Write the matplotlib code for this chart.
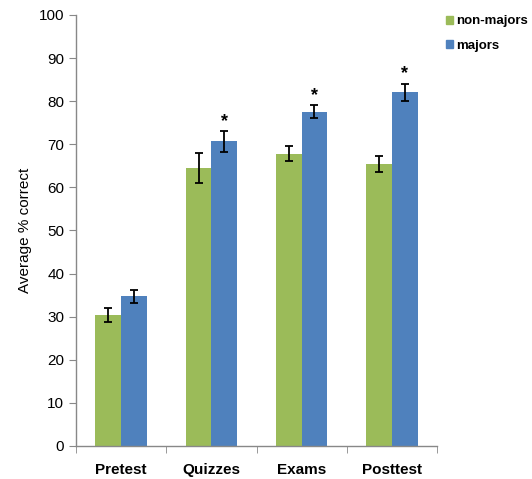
import matplotlib.pyplot as plt
import numpy as np
from matplotlib.patches import Patch

# -----------------------------
# Data
# -----------------------------
categories = ["Pretest", "Quizzes", "Exams", "Posttest"]

non_majors = [30.4, 64.5, 67.8, 65.4]
non_majors_err = [1.7, 3.4, 1.75, 1.9]

majors = [34.7, 70.7, 77.6, 82.1]
majors_err = [1.6, 2.4, 1.6, 2.0]

significant = [False, True, True, True]

GREEN = "#9BBB59"
BLUE = "#4F81BD"

plt.rcParams["font.family"] = ["Liberation Sans", "DejaVu Sans"]

# -----------------------------
# Plot
# -----------------------------
fig = plt.figure(figsize=(5.32, 4.79), dpi=100)
ax = fig.add_axes([0.1429, 0.0689, 0.6785, 0.8998])

x = np.arange(len(categories))
width = 0.285

ax.bar(x - width / 2, non_majors, width, color=GREEN, zorder=2)
ax.bar(x + width / 2, majors, width, color=BLUE, zorder=2)

ax.errorbar(x - width / 2, non_majors, yerr=non_majors_err, fmt="none",
            ecolor="black", elinewidth=1.3, capsize=3.2, capthick=1.3, zorder=3)
ax.errorbar(x + width / 2, majors, yerr=majors_err, fmt="none",
            ecolor="black", elinewidth=1.3, capsize=3.2, capthick=1.3, zorder=3)

for xi, m, e, sig in zip(x, majors, majors_err, significant):
    if sig:
        ax.text(xi + width / 2, m + e + 2.2, "*", ha="center", va="center",
                fontsize=13, fontweight="bold")

ax.set_xlim(-0.5, len(categories) - 0.5)
ax.set_ylim(0, 100)
ax.set_yticks(range(0, 101, 10))

ax.set_xticks(x)
ax.set_xticklabels(categories, fontsize=11, fontweight="bold")
ax.tick_params(axis="x", length=0, pad=12)
ax.set_xticks(np.arange(-0.5, len(categories), 1), minor=True)
ax.tick_params(axis="x", which="minor", length=5, color="#888888", direction="out")
ax.tick_params(axis="y", length=5, color="#888888", labelsize=11, direction="out")

ax.set_ylabel("Average % correct", fontsize=11, labelpad=5)

for side in ["top", "right"]:
    ax.spines[side].set_visible(False)
for side in ["left", "bottom"]:
    ax.spines[side].set_color("#888888")
    ax.spines[side].set_linewidth(1)

handles = [Patch(color=GREEN, label="non-majors"),
           Patch(color=BLUE, label="majors")]
fig.legend(handles=handles, loc="upper left", bbox_to_anchor=(0.818, 0.99),
           frameon=False, handlelength=0.55, handleheight=0.55, handletextpad=0.2,
           labelspacing=0.95, borderpad=0.3, prop={"weight": "bold", "size": 9.5})

fig.savefig("out.png", dpi=100)
